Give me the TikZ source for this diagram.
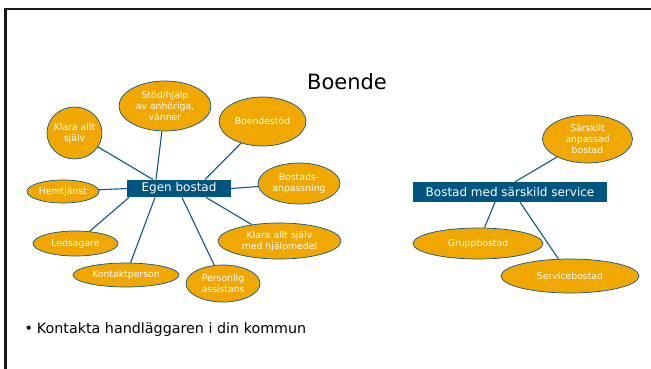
\documentclass[tikz,border=0pt]{standalone}
\usepackage{fontspec}
\setmainfont{DejaVu Sans}
\usetikzlibrary{shapes.geometric}
\definecolor{orng}{RGB}{240,168,0}
\definecolor{dblue}{RGB}{0,84,128}
\definecolor{lblue}{RGB}{16,88,136}
\begin{document}
\begin{tikzpicture}[x=1pt,y=-1pt,
  elli/.style={ellipse, draw=lblue, line width=0.7pt, fill=orng, inner sep=0pt},
  lbl/.style={text=white, font=\fontsize{9.3}{11}\selectfont, align=center, inner sep=0pt},
  hub/.style={rectangle, fill=dblue, text=white, font=\fontsize{12}{14}\selectfont, inner sep=0pt, minimum height=17.5pt},
  conn/.style={draw=lblue, line width=1.1pt}]
\useasboundingbox (0,0) rectangle (651,369);
\fill[white] (0,0) rectangle (651,369);
\draw[line width=2.6pt, black!90] (651,9) -- (5.3,9) -- (5.3,369);

\node[font=\fontsize{21}{24}\selectfont, anchor=base, inner sep=0pt] (title) at (347,89) {Boende};

% Egen bostad
\node[hub, minimum width=104pt] (eb) at (179,188.5) {Egen bostad};
\node[elli, minimum width=55pt, minimum height=52pt, label={[lbl]center:Klara allt\\själv}] (klara) at (74.5,133) {};
\node[elli, minimum width=92pt, minimum height=50pt, label={[lbl]center:Stöd/hjälp\\av anhöriga,\\vänner}] (stod) at (165,106) {};
\node[elli, minimum width=87pt, minimum height=49pt, label={[lbl]center:Boendestöd}] (boende) at (262.5,121.5) {};
\node[elli, minimum width=82pt, minimum height=41pt, label={[lbl]center:Bostads-\\anpassning}] (bostads) at (299,183.5) {};
\node[elli, minimum width=72pt, minimum height=23pt, label={[lbl]center:Hemtjänst}] (hemt) at (63,191.5) {};
\node[elli, minimum width=85pt, minimum height=25pt, label={[lbl]center:Ledsagare}] (leds) at (75.5,243.5) {};
\node[elli, minimum width=106pt, minimum height=24pt, label={[lbl]center:Kontaktperson}] (kontakt) at (126,275) {};
\node[elli, minimum width=74pt, minimum height=37pt, label={[lbl]center:Personlig\\assistans}] (pers) at (223,283.5) {};
\node[elli, minimum width=123pt, minimum height=36pt, label={[lbl]center:Klara allt själv\\med hjälpmedel}] (klarah) at (279.5,241) {};

\path[conn] ([xshift=-26pt]eb.north) -- (klara);
\path[conn] ([xshift=-23pt]eb.north) -- (stod);
\path[conn] ([xshift=26pt]eb.north) -- (boende);
\path[conn] (eb.east) -- (bostads);
\path[conn] (eb.west) -- (hemt);
\path[conn] ([xshift=-50pt]eb.south) -- (leds);
\path[conn] ([xshift=-24pt]eb.south) -- (kontakt);
\path[conn] ([xshift=3pt]eb.south) -- (pers);
\path[conn] ([xshift=27pt]eb.south) -- (klarah);

% Bostad med särskild service
\node[hub, minimum width=194pt, minimum height=20pt] (bms) at (510,192) {Bostad med särskild service};
\node[elli, minimum width=90pt, minimum height=48pt, label={[lbl]center:Särskilt\\anpassad\\bostad}] (sars) at (587.5,139) {};
\node[elli, minimum width=130pt, minimum height=31pt, label={[lbl]center:Gruppbostad}] (grupp) at (478,243.5) {};
\node[elli, minimum width=138pt, minimum height=34pt, label={[lbl]center:Servicebostad}] (service) at (570,276) {};

\path[conn] ([xshift=5pt]bms.north) -- (sars);
\path[conn] ([xshift=-15pt]bms.south) -- (grupp);
\path[conn] ([xshift=10pt]bms.south) -- (service);

\node[anchor=base west, inner sep=0pt, font=\fontsize{14.3}{17}\selectfont] (bullet) at (24.5,333) {\makebox[12.2pt][l]{\textbullet}Kontakta handläggaren i din kommun};
\end{tikzpicture}
\end{document}
